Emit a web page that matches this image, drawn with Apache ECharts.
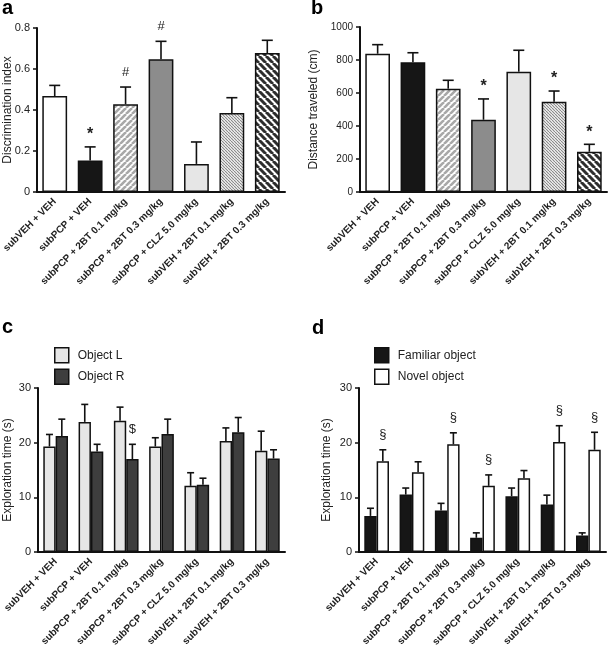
<!DOCTYPE html>
<html><head><meta charset="utf-8">
<script src="https://cdn.jsdelivr.net/npm/echarts@6/dist/echarts.min.js"></script>
<style>html,body{margin:0;padding:0;background:#fff}#c{width:609px;height:654px}</style>
</head><body><div id="c"></div>
<script>
// ---- data ----
const categories = ['subVEH + VEH','subPCP + VEH','subPCP + 2BT 0.1 mg/kg','subPCP + 2BT 0.3 mg/kg','subPCP + CLZ 5.0 mg/kg','subVEH + 2BT 0.1 mg/kg','subVEH + 2BT 0.3 mg/kg'];
// panel a
const discIndex = [0.468, 0.154, 0.428, 0.647, 0.137, 0.385, 0.678];
const discSem   = [0.052, 0.066, 0.084, 0.088, 0.107, 0.075, 0.062];
const discMarks = ['', '*', '#', '#', '', '', ''];
// panel b
const distance     = [838, 786, 626, 438, 729, 547, 244];
const distanceSem  = [55, 58, 51, 126, 130, 65, 45];
const distanceMarks= ['', '', '', '*', '', '*', '*'];
// panel c
const objectL    = [19.3, 23.8, 24.0, 19.3, 12.1, 20.3, 18.5];
const objectLSem = [2.2, 3.2, 2.5, 1.6, 2.4, 2.4, 3.6];
const objectR    = [21.2, 18.4, 17.0, 21.6, 12.3, 21.9, 17.1];
const objectRSem = [3.1, 1.3, 2.7, 2.7, 1.2, 2.7, 1.6];
const objectRMarks = ['', '', '$', '', '', '', ''];
// panel d
const familiar    = [6.6, 10.5, 7.6, 2.6, 10.2, 8.7, 3.0];
const familiarSem = [1.4, 1.2, 1.3, 0.9, 1.5, 1.7, 0.5];
const novel       = [16.6, 14.6, 19.7, 12.1, 13.5, 20.1, 18.7];
const novelSem    = [2.1, 1.9, 2.1, 2.0, 1.4, 3.0, 3.2];
const novelMarks  = ['§', '', '§', '§', '', '§', '§'];
// axis ticks
const ticksA = {min: 0, max: 0.8, interval: 0.2};
const ticksB = {min: 0, max: 1000, interval: 200};
const ticksCD = {min: 0, max: 30, interval: 10};

// ---- styles ----
const FONT = 'Liberation Sans, Arial, sans-serif';
const INK = '#111';
function hatch(size, fg, bg, lw, dir) {
  const c = document.createElement('canvas');
  c.width = size; c.height = size;
  const g = c.getContext('2d');
  g.fillStyle = bg; g.fillRect(0, 0, size, size);
  g.strokeStyle = fg; g.lineWidth = lw;
  for (let k = -1; k <= 1; k++) {
    g.beginPath();
    if (dir === '/') { g.moveTo(k * size, size); g.lineTo(k * size + size, 0); }
    else { g.moveTo(k * size, 0); g.lineTo(k * size + size, size); }
    g.stroke();
  }
  return {image: c, repeat: 'repeat'};
}
const fills = [
  '#ffffff', '#161616',
  hatch(6, '#a8a8a8', '#ffffff', 2.6, '/'),
  '#8c8c8c', '#e6e6e6',
  hatch(3, '#8a8a8a', '#ffffff', 1.2, '\\'),
  hatch(7, '#2e2e2e', '#ffffff', 3.0, '\\')
];

const chart = echarts.init(document.getElementById('c'), null, {renderer: 'canvas'});

function xAx(gi) {
  return {type: 'category', gridIndex: gi, data: categories, boundaryGap: true,
    axisLine: {show: true, lineStyle: {color: INK, width: 2}},
    axisTick: {show: false},
    axisLabel: {rotate: 45, interval: 0, margin: 8, fontSize: 10, fontWeight: 'bold', color: '#222', fontFamily: FONT}};
}
function yAx(gi, t, name, gap, fs) {
  return Object.assign({type: 'value', gridIndex: gi, name: name, nameLocation: 'middle', nameGap: gap,
    nameMoveOverlap: false,
    nameTextStyle: {fontSize: 12, color: '#222', fontFamily: FONT},
    axisLine: {show: true, lineStyle: {color: INK, width: 2}},
    axisTick: {show: true, length: 4, lineStyle: {color: INK, width: 1.5}},
    splitLine: {show: false},
    axisLabel: {margin: 7, fontSize: fs, color: '#222', fontFamily: FONT, formatter: v => String(v)}}, t);
}
function errSeries(gi, vals, sems, marks, offFrac, capW) {
  return {type: 'custom', xAxisIndex: gi, yAxisIndex: gi, z: 5, silent: true,
    data: vals.map((v, i) => [i, v, v + sems[i]]),
    renderItem(params, api) {
      const i = api.value(0);
      const band = api.size([1, 0])[0];
      const base = api.coord([i, api.value(1)]);
      const top = api.coord([i, api.value(2)]);
      const x = base[0] + offFrac * band;
      const children = [
        {type: 'line', shape: {x1: x, y1: base[1], x2: x, y2: top[1]}, style: {stroke: INK, lineWidth: 1.6}},
        {type: 'line', shape: {x1: x - capW / 2, y1: top[1], x2: x + capW / 2, y2: top[1]}, style: {stroke: INK, lineWidth: 1.6}}
      ];
      const m = marks && marks[params.dataIndex];
      if (m) {
        const star = m === '*';
        children.push({type: 'text', style: {x: x, y: top[1] - (star ? 12 : 15), text: m, fill: '#222',
          font: (star ? 'bold 16px ' : '13px ') + FONT, align: 'center', verticalAlign: 'middle'}});
      }
      return {type: 'group', children: children};
    }};
}
const barBorder = {borderColor: INK, borderWidth: 1.5};

const option = {
  animation: false,
  backgroundColor: '#fff',
  textStyle: {fontFamily: FONT},
  grid: [
    {left: 37, top: 28, width: 248, height: 164, containLabel: false, outerBoundsMode: 'none'},
    {left: 360, top: 27, width: 247, height: 165, containLabel: false, outerBoundsMode: 'none'},
    {left: 38, top: 388, width: 247, height: 164, containLabel: false, outerBoundsMode: 'none'},
    {left: 359, top: 388, width: 247, height: 164, containLabel: false, outerBoundsMode: 'none'}
  ],
  xAxis: [xAx(0), xAx(1), xAx(2), xAx(3)],
  yAxis: [
    yAx(0, ticksA, 'Discrimination index', 23, 11),
    yAx(1, ticksB, 'Distance traveled (cm)', 40, 10),
    yAx(2, ticksCD, 'Exploration time (s)', 24, 11),
    yAx(3, ticksCD, 'Exploration time (s)', 26, 11)
  ],
  legend: [
    {data: ['Object L', 'Object R'], orient: 'vertical', left: 49, top: 342, itemWidth: 14, itemHeight: 15, itemGap: 5,
      icon: 'rect', itemStyle: {borderColor: INK, borderWidth: 1.5},
      textStyle: {fontSize: 12, color: '#222', fontFamily: FONT, padding: [0, 0, 0, 4]}},
    {data: ['Familiar object', 'Novel object'], orient: 'vertical', left: 369, top: 342, itemWidth: 14, itemHeight: 15, itemGap: 5,
      icon: 'rect', itemStyle: {borderColor: INK, borderWidth: 1.5},
      textStyle: {fontSize: 12, color: '#222', fontFamily: FONT, padding: [0, 0, 0, 4]}}
  ],
  graphic: [
    {type: 'text', left: 2, top: -2, style: {text: 'a', font: 'bold 20px ' + FONT, fill: '#000'}},
    {type: 'text', left: 311, top: -2, style: {text: 'b', font: 'bold 20px ' + FONT, fill: '#000'}},
    {type: 'text', left: 2, top: 317, style: {text: 'c', font: 'bold 20px ' + FONT, fill: '#000'}},
    {type: 'text', left: 312, top: 318, style: {text: 'd', font: 'bold 20px ' + FONT, fill: '#000'}}
  ],
  series: [
    {type: 'bar', name: 'DI', xAxisIndex: 0, yAxisIndex: 0, barCategoryGap: '30%',
      data: discIndex.map((v, i) => ({value: v, itemStyle: {color: fills[i]}})), itemStyle: barBorder},
    errSeries(0, discIndex, discSem, discMarks, 0, 11),
    {type: 'bar', name: 'Dist', xAxisIndex: 1, yAxisIndex: 1, barCategoryGap: '30%',
      data: distance.map((v, i) => ({value: v, itemStyle: {color: fills[i]}})), itemStyle: barBorder},
    errSeries(1, distance, distanceSem, distanceMarks, 0, 11),
    {type: 'bar', name: 'Object L', xAxisIndex: 2, yAxisIndex: 2, barCategoryGap: '30%', barGap: '0%',
      data: objectL, itemStyle: Object.assign({color: '#e6e6e6'}, barBorder)},
    {type: 'bar', name: 'Object R', xAxisIndex: 2, yAxisIndex: 2, barCategoryGap: '30%', barGap: '0%',
      data: objectR, itemStyle: Object.assign({color: '#3e3e3e'}, barBorder)},
    errSeries(2, objectL, objectLSem, null, -0.175, 7),
    errSeries(2, objectR, objectRSem, objectRMarks, 0.175, 7),
    {type: 'bar', name: 'Familiar object', xAxisIndex: 3, yAxisIndex: 3, barCategoryGap: '30%', barGap: '0%',
      data: familiar, itemStyle: Object.assign({color: '#161616'}, barBorder)},
    {type: 'bar', name: 'Novel object', xAxisIndex: 3, yAxisIndex: 3, barCategoryGap: '30%', barGap: '0%',
      data: novel, itemStyle: Object.assign({color: '#ffffff'}, barBorder)},
    errSeries(3, familiar, familiarSem, null, -0.175, 7),
    errSeries(3, novel, novelSem, novelMarks, 0.175, 7)
  ]
};
chart.setOption(option);
</script>
</body></html>
